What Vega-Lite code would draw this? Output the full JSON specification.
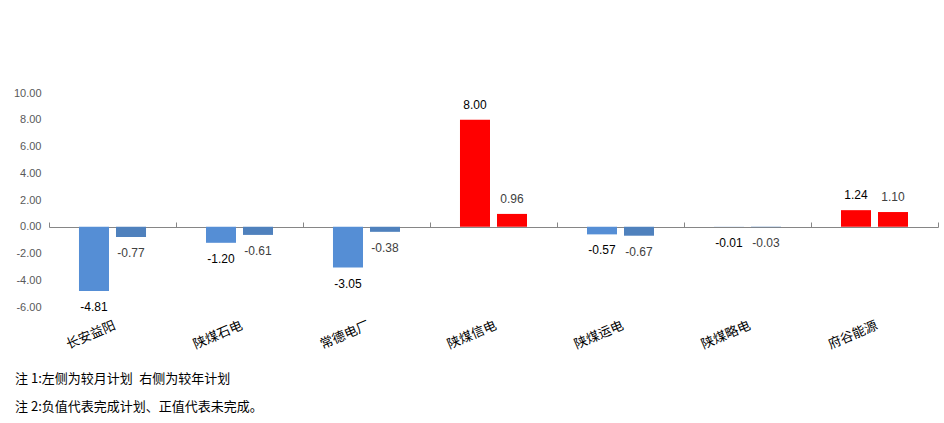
{
  "$schema": "https://vega.github.io/schema/vega-lite/v6.json",
  "autosize": {"type": "none"},
  "width": 889,
  "height": 214,
  "padding": {"left": 49, "top": 93, "right": 6, "bottom": 116},
  "background": "#ffffff",
  "config": {
    "view": {"stroke": null},
    "font": "Noto Sans CJK SC",
    "axisY": {
      "title": null, "format": ".2f",
      "labelExpr": "replace(datum.label, '−', '-')", "labelOverlap": false,
      "domain": false, "ticks": false, "grid": false,
      "labelFontSize": 11, "labelColor": "#595959", "labelPadding": 8,
      "labelFont": "Liberation Sans"
    }
  },
  "data": {
    "values": [
      {"cat": "长安益阳", "series": "月", "value": -4.81},
      {"cat": "长安益阳", "series": "年", "value": -0.77},
      {"cat": "陕煤石电", "series": "月", "value": -1.20},
      {"cat": "陕煤石电", "series": "年", "value": -0.61},
      {"cat": "常德电厂", "series": "月", "value": -3.05},
      {"cat": "常德电厂", "series": "年", "value": -0.38},
      {"cat": "陕煤信电", "series": "月", "value": 8.00},
      {"cat": "陕煤信电", "series": "年", "value": 0.96},
      {"cat": "陕煤运电", "series": "月", "value": -0.57},
      {"cat": "陕煤运电", "series": "年", "value": -0.67},
      {"cat": "陕煤略电", "series": "月", "value": -0.01},
      {"cat": "陕煤略电", "series": "年", "value": -0.03},
      {"cat": "府谷能源", "series": "月", "value": 1.24},
      {"cat": "府谷能源", "series": "年", "value": 1.10}
    ]
  },
  "transform": [{"calculate": "replace(format(datum.value, '.2f'), '−', '-')", "as": "label"}],
  "title": {
    "text": ["注 1:左侧为较月计划\u2002右侧为较年计划", "注 2:负值代表完成计划、正值代表未完成。"],
    "orient": "bottom",
    "anchor": "start",
    "frame": "group",
    "dx": -34,
    "offset": 22,
    "fontSize": 13,
    "fontWeight": "normal",
    "lineHeight": 28,
    "color": "#000000",
    "font": "Noto Sans CJK SC"
  },
  "resolve": {"axis": {"x": "independent"}},
  "layer": [
    {
      "mark": {"type": "bar"},
      "encoding": {
        "x": {
          "field": "cat", "type": "nominal", "sort": null,
          "scale": {"paddingInner": 0, "paddingOuter": 0},
          "axis": {
            "title": null, "orient": "bottom", "domain": false, "ticks": false,
            "labelAngle": -23, "labelAlign": "right", "labelBaseline": "top",
            "labelPadding": 12, "labelFontSize": 13, "labelColor": "#000000",
            "labelFont": "Noto Sans CJK SC"
          }
        },
        "xOffset": {
          "field": "series", "type": "nominal",
          "scale": {"domain": ["月", "年"], "paddingInner": 0.189, "paddingOuter": 0.81}
        },
        "y": {
          "field": "value", "type": "quantitative",
          "scale": {"domain": [-6, 10], "nice": false, "zero": false},
          "axis": {"values": [-6, -4, -2, 0, 2, 4, 6, 8, 10]}
        },
        "color": {
          "condition": {"test": "datum.value > 0", "value": "#FF0000"},
          "field": "series", "type": "nominal",
          "scale": {"domain": ["月", "年"], "range": ["#558ED5", "#4F81BD"]},
          "legend": null
        }
      }
    },
    {
      "transform": [{"filter": "datum.value > 0"}],
      "mark": {"type": "text", "dy": -15, "baseline": "middle", "fontSize": 12, "font": "Liberation Sans"},
      "encoding": {
        "x": {
          "field": "cat", "type": "nominal", "sort": null,
          "scale": {"paddingInner": 0, "paddingOuter": 0},
          "axis": {
            "title": null, "orient": "bottom", "offset": -80, "labels": false,
            "domain": true, "domainColor": "#868686", "domainWidth": 1,
            "ticks": true, "tickBand": "extent", "tickSize": -5, "tickColor": "#868686"
          }
        },
        "xOffset": {"field": "series", "type": "nominal", "scale": {"domain": ["月", "年"], "paddingInner": 0.189, "paddingOuter": 0.81}},
        "y": {"field": "value", "type": "quantitative", "axis": {"values": [-6, -4, -2, 0, 2, 4, 6, 8, 10]}},
        "text": {"field": "label", "type": "nominal"},
        "color": {"condition": {"test": "datum.series === '月'", "value": "#000000"}, "value": "#404040"}
      }
    },
    {
      "transform": [{"filter": "datum.value <= 0"}],
      "mark": {"type": "text", "dy": 16, "baseline": "middle", "fontSize": 12, "font": "Liberation Sans"},
      "encoding": {
        "x": {"field": "cat", "type": "nominal", "sort": null, "axis": null},
        "xOffset": {"field": "series", "type": "nominal", "scale": {"domain": ["月", "年"], "paddingInner": 0.189, "paddingOuter": 0.81}},
        "y": {"field": "value", "type": "quantitative", "axis": {"values": [-6, -4, -2, 0, 2, 4, 6, 8, 10]}},
        "text": {"field": "label", "type": "nominal"},
        "color": {"condition": {"test": "datum.series === '月'", "value": "#000000"}, "value": "#404040"}
      }
    }
  ]
}
